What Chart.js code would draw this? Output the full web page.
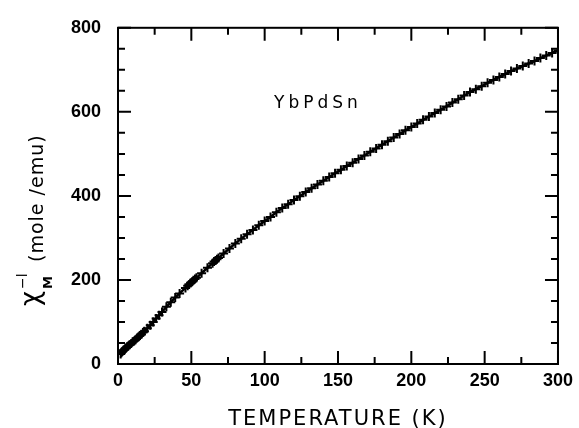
<!DOCTYPE html>
<html>
<head>
<meta charset="utf-8">
<script src="https://cdn.jsdelivr.net/npm/chart.js@4/dist/chart.umd.min.js"></script>
<style>
  html, body { margin: 0; padding: 0; background: #fff; }
  #wrap { width: 579px; height: 428px; }
</style>
</head>
<body>
<div id="wrap"><canvas id="chart"></canvas></div>
<script>
const tempK = [1.8, 2.3, 2.8, 3.3, 3.8, 4.3, 4.8, 5.5, 6.2, 7, 8, 9, 10, 11, 12, 13, 14, 15, 16, 17, 18, 20, 22, 24, 26, 28, 30, 33, 36, 39, 42, 46,
  47.5, 48.5, 49.5, 50.5, 51.5, 52.5, 53.5, 57, 61, 64.5, 65.5, 66.5, 67.5, 68.5, 72, 76, 80, 84, 88, 92, 96, 100, 104, 108, 112, 116, 120,
  124, 128, 132, 136, 140, 144, 148, 152, 156, 160, 164, 168, 172, 176, 180, 184, 188, 192, 196, 200, 204, 208, 212, 216, 220, 224, 228,
  232, 236, 240, 244, 248, 252, 256, 260, 264, 268, 272, 276, 280, 284, 288, 292, 296, 300];
const chiInv = [24, 27, 29, 31, 33, 34, 36, 38, 41, 43, 46, 49, 53, 55, 58, 62, 65, 68, 71, 75, 78, 85, 92, 100, 108, 116, 124, 136, 147, 158, 168, 181,
  186, 189, 193, 196, 199, 202, 205, 216, 229, 240, 244, 246, 249, 252, 263, 275, 287, 298, 309, 319, 330, 340, 350, 361, 371, 380, 390,
  399, 409, 418, 427, 436, 445, 454, 462, 471, 479, 488, 496, 505, 513, 522, 530, 539, 547, 556, 564, 572, 581, 589, 597, 605, 613, 622,
  630, 639, 647, 654, 661, 669, 676, 683, 690, 697, 703, 709, 715, 721, 728, 734, 740, 746];

const xTicks = [0, 50, 100, 150, 200, 250, 300];
const yTicks = [0, 200, 400, 600, 800];
const xLabel = 'TEMPERATURE (K)';
const yLabel = '(mole /emu)';
const compound = 'YbPdSn';

const pts = tempK.map((t, i) => ({ x: t, y: chiInv[i] }));

// frame, inward ticks and the hand-lettered texts
const framePlugin = {
  id: 'frame',
  afterDraw(chart) {
    const ctx = chart.ctx;
    const a = chart.chartArea;
    const xs = chart.scales.x, ys = chart.scales.y;
    ctx.save();
    ctx.strokeStyle = '#000';
    ctx.lineWidth = 2;
    ctx.strokeRect(a.left, a.top, a.right - a.left, a.bottom - a.top);
    ctx.beginPath();
    for (let t = xs.min; t <= xs.max; t += 25) {
      const px = xs.getPixelForValue(t);
      const len = t % 50 === 0 ? 13 : 7;
      ctx.moveTo(px, a.bottom); ctx.lineTo(px, a.bottom - len);
      ctx.moveTo(px, a.top); ctx.lineTo(px, a.top + len);
    }
    for (let v = ys.min; v <= ys.max; v += 50) {
      const py = ys.getPixelForValue(v);
      const len = v % 200 === 0 ? 13 : 7;
      ctx.moveTo(a.left, py); ctx.lineTo(a.left + len, py);
      ctx.moveTo(a.right, py); ctx.lineTo(a.right - len, py);
    }
    ctx.stroke();

    ctx.fillStyle = '#000';
    ctx.textAlign = 'center';
    ctx.textBaseline = 'alphabetic';
    ctx.font = '21px "DejaVu Sans"';
    ctx.letterSpacing = '2px';
    ctx.fillText(xLabel, (a.left + a.right) / 2, 425);

    ctx.font = '17px "DejaVu Sans"';
    ctx.letterSpacing = '4px';
    ctx.fillText(compound, 318, 108);

    // y title: chi_M^-1 (mole /emu), rotated
    ctx.translate(44, 306);
    ctx.rotate(-Math.PI / 2);
    ctx.textAlign = 'left';
    ctx.letterSpacing = '0px';
    ctx.font = '26px "DejaVu Sans"';
    ctx.fillText('\u03c7', 0, -5);
    ctx.font = 'bold 13px "DejaVu Sans"';
    ctx.fillText('M', 17, 8);
    ctx.font = '14px "DejaVu Sans"';
    ctx.fillText('\u2212l', 17, -17);
    ctx.font = '19px "DejaVu Sans"';
    ctx.letterSpacing = '1px';
    ctx.fillText(yLabel, 44, -1);
    ctx.restore();
  }
};

new Chart(document.getElementById('chart'), {
  type: 'scatter',
  data: {
    datasets: [{
      data: pts,
      showLine: true,
      borderColor: '#000',
      borderWidth: 2.5,
      backgroundColor: '#000',
      pointStyle: 'cross',
      pointRadius: 4.5,
      pointBorderWidth: 2,
      tension: 0
    }]
  },
  options: {
    responsive: true,
    maintainAspectRatio: false,
    animation: false,
    layout: { padding: { left: 0, right: 20, top: 16, bottom: 0 } },
    plugins: { legend: { display: false }, tooltip: { enabled: false } },
    scales: {
      x: {
        type: 'linear', min: 0, max: 300,
        afterFit: s => { s.height = 64; },
        grid: { display: false, drawTicks: false },
        border: { display: false },
        ticks: {
          stepSize: 50, padding: 6, color: '#000',
          font: { family: '"Liberation Sans"', size: 18, weight: 'bold' },
          callback: v => xTicks.includes(v) ? String(v) : null
        }
      },
      y: {
        type: 'linear', min: 0, max: 800,
        afterFit: s => { s.width = 118; },
        grid: { display: false, drawTicks: false },
        border: { display: false },
        ticks: {
          stepSize: 200, padding: 17, color: '#000',
          font: { family: '"Liberation Sans"', size: 18, weight: 'bold' },
          callback: v => yTicks.includes(v) ? String(v) : null
        }
      }
    }
  },
  plugins: [framePlugin]
});
</script>
</body>
</html>
